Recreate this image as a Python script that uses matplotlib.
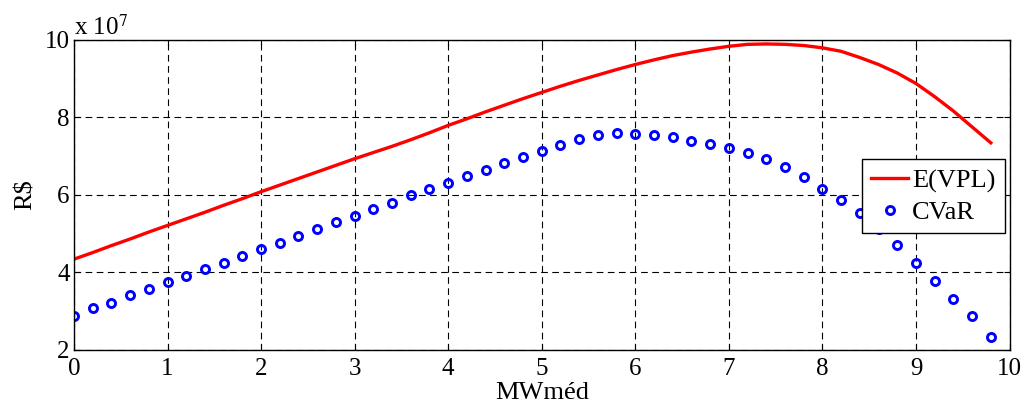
import numpy as np
import matplotlib.pyplot as plt

plt.rcParams["font.family"] = ["Liberation Serif", "DejaVu Serif"]
plt.rcParams["mathtext.fontset"] = "stix"

# dados (valores em unidades de 1e7 R$)
mw = np.round(np.arange(0, 9.81, 0.2), 1)
e_vpl = [4.34, 4.51, 4.69, 4.86, 5.04, 5.21, 5.38, 5.55, 5.73, 5.90,
         6.08, 6.25, 6.42, 6.59, 6.76, 6.93, 7.09, 7.25, 7.42, 7.60,
         7.79, 7.96, 8.14, 8.31, 8.48, 8.64, 8.80, 8.95, 9.09, 9.23,
         9.36, 9.48, 9.59, 9.68, 9.76, 9.83, 9.88, 9.89, 9.88, 9.85,
         9.79, 9.70, 9.54, 9.36, 9.14, 8.87, 8.53, 8.16, 7.75, 7.34]
cvar = [2.88, 3.07, 3.22, 3.41, 3.57, 3.74, 3.90, 4.09, 4.25, 4.43,
        4.59, 4.77, 4.94, 5.12, 5.30, 5.45, 5.64, 5.80, 5.99, 6.15,
        6.31, 6.48, 6.64, 6.81, 6.97, 7.13, 7.29, 7.43, 7.55, 7.59,
        7.58, 7.54, 7.48, 7.40, 7.31, 7.20, 7.07, 6.92, 6.71, 6.46,
        6.16, 5.87, 5.54, 5.13, 4.70, 4.25, 3.79, 3.32, 2.87, 2.33]

fig = plt.figure(figsize=(10.27, 4.05), dpi=100)
ax = fig.add_axes([0.072, 0.136, 0.911, 0.766])

ax.plot(mw, e_vpl, color="red", lw=2.4, label="E(VPL)")
ax.plot(mw, cvar, "o", color="blue", mfc="none", ms=5.8, mew=2.1, lw=0, label="CVaR")

ax.set_xlim(0, 10)
ax.set_ylim(2, 10)
ax.set_xticks(range(0, 11))
ax.set_yticks([2, 4, 6, 8, 10])
ax.grid(True, color="black", linestyle=(0, (6, 4)), lw=0.8)
ax.tick_params(direction="in", top=True, right=True, labelsize=18, length=4, pad=3)
ax.tick_params(axis="x", pad=6)
for s in ax.spines.values():
    s.set_linewidth(1.0)

ax.set_xlabel("MWméd", fontsize=19, labelpad=1)
ax.set_ylabel("R\\$", fontsize=19, labelpad=6)
ax.text(0.0, 1.0, "x 10$^{7}$", transform=ax.transAxes, fontsize=18,
        ha="left", va="bottom")

leg = ax.legend(loc="upper right", bbox_to_anchor=(0.995, 0.614), borderaxespad=0,
                fontsize=19, fancybox=False, edgecolor="black", framealpha=1,
                handlelength=1.4, handletextpad=0.15, borderpad=0.35, labelspacing=0.3)
leg.get_frame().set_linewidth(1.0)

fig.savefig("out.png", dpi=100)
